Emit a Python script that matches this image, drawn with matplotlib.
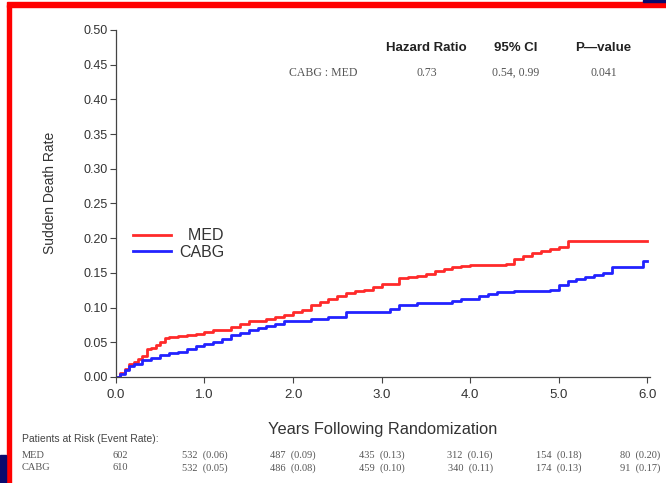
import matplotlib
matplotlib.use('Agg')
import matplotlib.pyplot as plt
from matplotlib.patches import Rectangle
import numpy as np

# Kaplan-Meier style cumulative sudden death rate
med_t = [0, 0.05, 0.1, 0.15, 0.2, 0.25, 0.3, 0.35, 0.4, 0.45, 0.5, 0.55, 0.6, 0.7, 0.8,
         0.9, 1.0, 1.1, 1.2, 1.3, 1.4, 1.5, 1.6, 1.7, 1.8, 1.9, 2.0, 2.1, 2.2, 2.3, 2.4,
         2.5, 2.6, 2.7, 2.8, 2.9, 3.0, 3.1, 3.2, 3.3, 3.4, 3.5, 3.6, 3.7, 3.8, 3.9, 4.0,
         4.2, 4.4, 4.5, 4.6, 4.7, 4.8, 4.9, 5.0, 5.1, 6.0]
med_v = [0, 0.006, 0.012, 0.018, 0.022, 0.026, 0.030, 0.040, 0.042, 0.046, 0.050, 0.056,
         0.058, 0.059, 0.060, 0.062, 0.065, 0.067, 0.068, 0.072, 0.076, 0.080, 0.081,
         0.083, 0.086, 0.090, 0.093, 0.097, 0.104, 0.108, 0.112, 0.117, 0.121, 0.124,
         0.125, 0.130, 0.134, 0.134, 0.142, 0.144, 0.146, 0.149, 0.152, 0.155, 0.159,
         0.160, 0.161, 0.162, 0.163, 0.170, 0.174, 0.178, 0.181, 0.184, 0.187, 0.196, 0.196]

cabg_t = [0, 0.05, 0.1, 0.15, 0.2, 0.3, 0.4, 0.5, 0.6, 0.7, 0.8, 0.9, 1.0, 1.1, 1.2, 1.3,
          1.4, 1.5, 1.6, 1.7, 1.8, 1.9, 2.0, 2.2, 2.4, 2.6, 2.8, 3.0, 3.1, 3.2, 3.4, 3.6,
          3.8, 3.9, 4.0, 4.1, 4.2, 4.3, 4.5, 4.7, 4.9, 5.0, 5.1, 5.2, 5.3, 5.4, 5.5, 5.6,
          5.9, 5.95, 6.0]
cabg_v = [0, 0.005, 0.010, 0.016, 0.019, 0.024, 0.028, 0.032, 0.035, 0.036, 0.041, 0.044,
          0.047, 0.051, 0.055, 0.060, 0.063, 0.067, 0.070, 0.073, 0.077, 0.080, 0.081,
          0.084, 0.087, 0.093, 0.094, 0.094, 0.098, 0.104, 0.106, 0.106, 0.109, 0.112,
          0.113, 0.116, 0.119, 0.122, 0.124, 0.124, 0.126, 0.132, 0.138, 0.141, 0.144,
          0.147, 0.150, 0.158, 0.158, 0.167, 0.167]

# patients at risk table
risk_years = [0, 1, 2, 3, 4, 5, 6]
med_risk = ['602', '532  (0.06)', '487  (0.09)', '435  (0.13)', '312  (0.16)', '154  (0.18)', '80  (0.20)']
cabg_risk = ['610', '532  (0.05)', '486  (0.08)', '459  (0.10)', '340  (0.11)', '174  (0.13)', '91  (0.17)']

hr_header = ['Hazard Ratio', '95% CI', 'P\u2014value']
hr_row = ['0.73', '0.54, 0.99', '0.041']

plt.rcParams['font.family'] = ['Liberation Sans', 'DejaVu Sans']
serif = ['Liberation Serif', 'DejaVu Serif']
txt = '#333333'

fig = plt.figure(figsize=(6.66, 4.83), dpi=100)
ax = fig.add_axes([0.174, 0.2195, 0.802, 0.7185])

ax.step(med_t, med_v, where='post', color='#ff2a2a', lw=2.0, label='  MED')
ax.step(cabg_t, cabg_v, where='post', color='#2222ff', lw=2.0, label='CABG')

ax.set_xlim(0, 6.03)
ax.set_ylim(0, 0.5)
ax.set_xticks(np.arange(0, 7, 1.0))
ax.set_xticklabels([f'{v:.1f}' for v in np.arange(0, 7, 1.0)])
ax.set_yticks(np.arange(0, 0.51, 0.05))
ax.set_yticklabels([f'{v:.2f}' for v in np.arange(0, 0.51, 0.05)])
ax.tick_params(axis='both', direction='out', length=4, width=0.8, colors='#444444',
               labelcolor=txt)
ax.tick_params(axis='y', labelsize=9, pad=2)
ax.tick_params(axis='x', labelsize=9.5, pad=5)
for s in ['top', 'right']:
    ax.spines[s].set_visible(False)
for s in ['left', 'bottom']:
    ax.spines[s].set_color('#444444')
    ax.spines[s].set_linewidth(0.9)

ax.set_xlabel('Years Following Randomization', fontsize=11.8, color=txt, labelpad=15)
ax.set_ylabel('Sudden Death Rate', fontsize=10, color=txt)
ax.yaxis.set_label_coords(-0.11, 0.53)

leg = ax.legend(loc='upper left', bbox_to_anchor=(0.005, 0.47), frameon=False,
                fontsize=11.5, handlelength=2.4, handletextpad=0.5, labelspacing=0.1)
for t in leg.get_texts():
    t.set_color(txt)

# hazard ratio summary
cols = [0.582, 0.749, 0.913]
for x, h in zip(cols, hr_header):
    ax.text(x, 0.948, h, transform=ax.transAxes, ha='center', va='center',
            fontsize=9.5, fontweight='bold', color='#222222')
ax.text(0.388, 0.876, 'CABG : MED', transform=ax.transAxes, ha='center', va='center',
        fontsize=8.5, color='#555555', family=serif)
for x, v in zip(cols, hr_row):
    ax.text(x, 0.876, v, transform=ax.transAxes, ha='center', va='center',
            fontsize=8.5, color='#555555', family=serif)

# patients at risk rows below the axis
fig.text(0.033, 1 - 439 / 483, 'Patients at Risk (Event Rate):', fontsize=7.5,
         color='#444444', va='center')
for label, row, y in [('MED', med_risk, 455), ('CABG', cabg_risk, 468)]:
    yf = 1 - y / 483
    fig.text(0.033, yf, label, fontsize=7.5, color='#555555', va='center', family=serif)
    for yr, s in zip(risk_years, row):
        shift = 0.05 if yr == 0 else (-0.08 if yr == 6 else 0)
        xd = ax.transData.transform((yr + shift, 0))[0]
        xf = fig.transFigure.inverted().transform((xd, 0))[0]
        fig.text(xf, yf, s, fontsize=7.5, color='#555555', ha='center', va='center',
                 family=serif)

# slide frame around the chart
fig.patches.append(Rectangle((7 / 666, -0.01), 4 / 666, 1.0, transform=fig.transFigure,
                             color='#ff0000', zorder=5))
fig.patches.append(Rectangle((7 / 666, 1 - 7 / 483), 1, 5 / 483, transform=fig.transFigure,
                             color='#ff0000', zorder=5))
fig.patches.append(Rectangle((0, 0), 6 / 666, 28 / 483, transform=fig.transFigure,
                             color='#0a0a6e', zorder=5))
fig.patches.append(Rectangle((643 / 666, 1 - 2 / 483), 23 / 666, 2 / 483,
                             transform=fig.transFigure, color='#0a0a6e', zorder=5))

fig.savefig('out.png', dpi=100)
